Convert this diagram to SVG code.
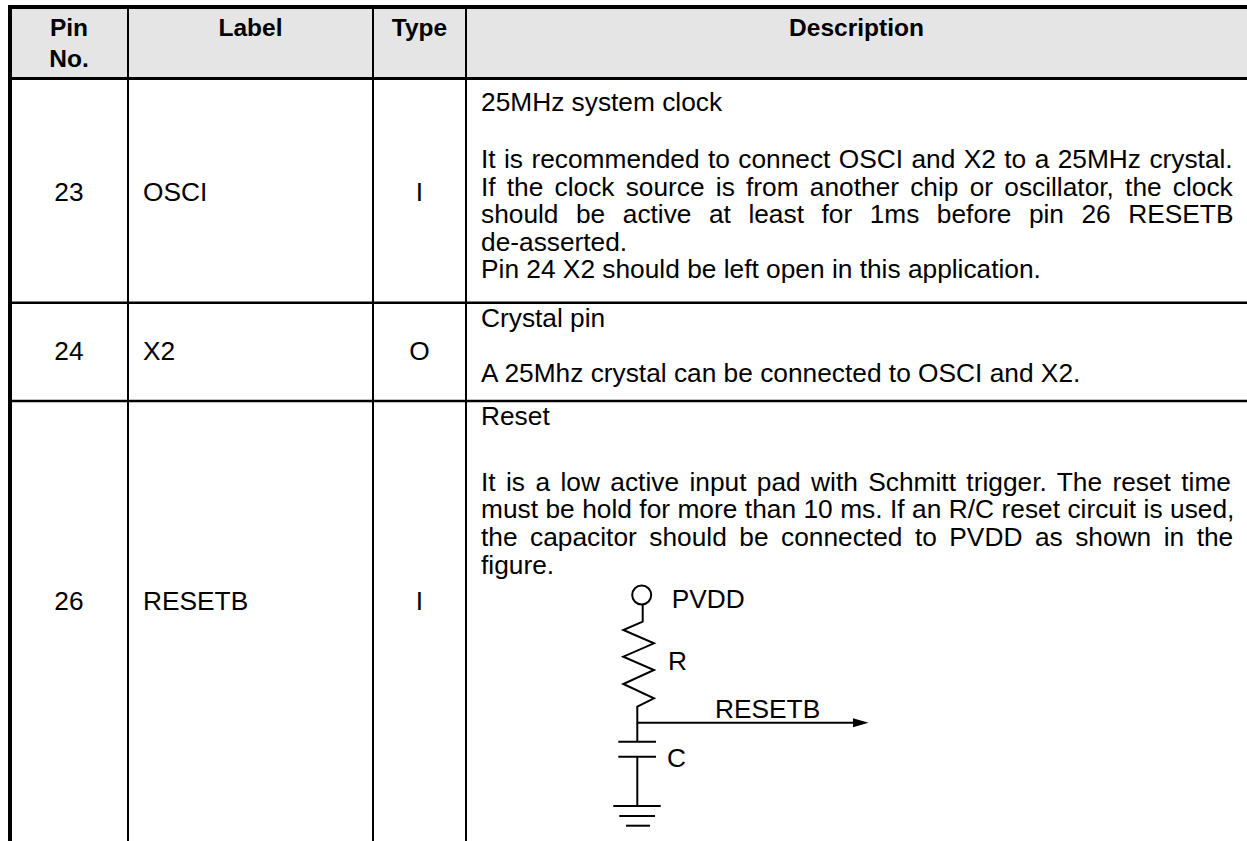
<svg xmlns="http://www.w3.org/2000/svg" width="1247" height="841" viewBox="0 0 1247 841">
<style>
.hd{font-family:"Liberation Sans",Arial,sans-serif;font-size:24.5px;font-weight:bold;fill:#000;text-anchor:middle}
.tx{font-family:"Liberation Sans",Arial,sans-serif;font-size:26.3px;fill:#000}
.c{text-anchor:middle}
.w{stroke:#000;fill:none;stroke-width:2}
</style>
<rect width="1247" height="841" fill="#fff"/>
<g id="table">
<rect x="10" y="7" width="1237" height="71.5" fill="#e5e5e5"/>
<line x1="8" y1="7" x2="1247" y2="7" stroke="#000" stroke-width="4"/>
<line x1="10" y1="5" x2="10" y2="841" stroke="#000" stroke-width="4"/>
<line x1="10" y1="78.5" x2="1247" y2="78.5" stroke="#000" stroke-width="3"/>
<line x1="10" y1="302.7" x2="1247" y2="302.7" stroke="#000" stroke-width="2.5"/>
<line x1="10" y1="401" x2="1247" y2="401" stroke="#000" stroke-width="2.5"/>
<line x1="128" y1="7" x2="128" y2="841" stroke="#000" stroke-width="2"/>
<line x1="373" y1="7" x2="373" y2="841" stroke="#000" stroke-width="2"/>
<line x1="466" y1="7" x2="466" y2="841" stroke="#000" stroke-width="2"/>
</g>
<g id="header">
<text class="hd" x="69" y="36">Pin</text>
<text class="hd" x="69" y="66.5">No.</text>
<text class="hd" x="250.5" y="36">Label</text>
<text class="hd" x="419.5" y="36">Type</text>
<text class="hd" x="856.5" y="36">Description</text>
</g>
<g id="row23">
<text class="tx c" x="69" y="200.5">23</text>
<text class="tx" x="143" y="200.5">OSCI</text>
<text class="tx c" x="419.5" y="200.5">I</text>
<text class="tx" x="481" y="111">25MHz system clock</text>
<text class="tx" x="481" y="168" word-spacing="1.1">It is recommended to connect OSCI and X2 to a 25MHz crystal.</text>
<text class="tx" x="481" y="195.5" word-spacing="3.9">If the clock source is from another chip or oscillator, the clock</text>
<text class="tx" x="481" y="223" word-spacing="10.2">should be active at least for 1ms before pin 26 RESETB</text>
<text class="tx" x="481" y="250.5">de-asserted.</text>
<text class="tx" x="481" y="278">Pin 24 X2 should be left open in this application.</text>
</g>
<g id="row24">
<text class="tx c" x="69" y="359.5">24</text>
<text class="tx" x="143" y="359.5">X2</text>
<text class="tx c" x="419.5" y="359.5">O</text>
<text class="tx" x="481" y="326.5">Crystal pin</text>
<text class="tx" x="481" y="381.5">A 25Mhz crystal can be connected to OSCI and X2.</text>
</g>
<g id="row26">
<text class="tx c" x="69" y="610">26</text>
<text class="tx" x="143" y="610">RESETB</text>
<text class="tx c" x="419.5" y="610">I</text>
<text class="tx" x="481" y="425">Reset</text>
<text class="tx" x="481" y="490.5" word-spacing="3.1">It is a low active input pad with Schmitt trigger. The reset time</text>
<text class="tx" x="481" y="518" word-spacing="0.15">must be hold for more than 10 ms. If an R/C reset circuit is used,</text>
<text class="tx" x="481" y="546" word-spacing="5.2">the capacitor should be connected to PVDD as shown in the</text>
<text class="tx" x="481" y="573.5">figure.</text>
</g>
<g id="circuit">
<circle cx="641.7" cy="595" r="9.5" class="w"/>
<polyline class="w" points="642.7,604.5 642.7,621.7 623.3,630 654,643.3 623.3,656.7 654,670 623.3,684 654,698.3 637.3,706.7 637.3,741.7"/>
<line class="w" x1="618.3" y1="741.7" x2="656" y2="741.7"/>
<line class="w" x1="618.3" y1="756.7" x2="656" y2="756.7"/>
<line class="w" x1="637.3" y1="756.7" x2="637.3" y2="806"/>
<line class="w" x1="613.3" y1="806" x2="660.7" y2="806"/>
<line class="w" x1="619.3" y1="816" x2="655" y2="816"/>
<line class="w" x1="626" y1="825.7" x2="650" y2="825.7"/>
<line class="w" x1="637.3" y1="722.7" x2="855" y2="722.7"/>
<polygon points="868.5,722.7 853,718.2 853,727.2" fill="#000"/>
<text class="tx" x="671.7" y="607.5">PVDD</text>
<text class="tx" x="668" y="669.5">R</text>
<text class="tx" x="715" y="717.5">RESETB</text>
<text class="tx" x="667" y="766.5">C</text>
</g>
</svg>
